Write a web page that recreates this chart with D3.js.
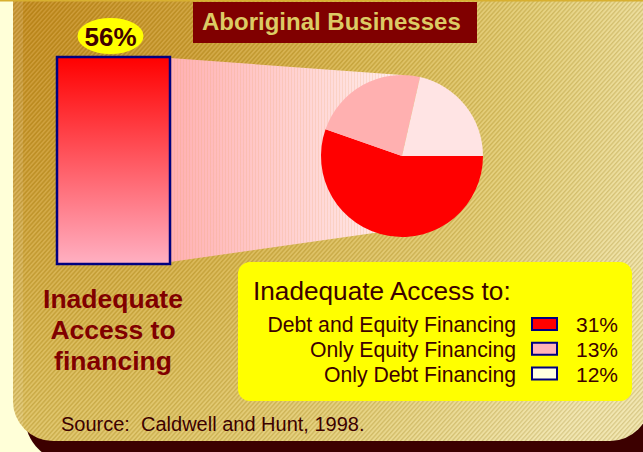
<!DOCTYPE html>
<html>
<head>
<meta charset="utf-8">
<script src="https://cdn.jsdelivr.net/npm/d3@7/dist/d3.min.js"></script>
<style>
  html, body { margin: 0; padding: 0; background: #FFFFD8; }
  svg { display: block; }
  text { font-family: "Liberation Sans", Arial, Helvetica, sans-serif; white-space: pre; }
</style>
</head>
<body>
<svg id="chart" width="643" height="452"></svg>
<script>
// Data
const title = "Aboriginal Businesses";
const totalShare = 56;                 // share of businesses citing inadequate access to financing
const totalLabel = ["Inadequate", "Access to", "financing"];
const legendTitle = "Inadequate Access to:";
const categories = ["Debt and Equity Financing", "Only Equity Financing", "Only Debt Financing"];
const shares = [31, 13, 12];
const sliceColors = ["#FF0000", "#FFB0B0", "#FFE4E4"];
const swatchColors = ["#FF0000", "#FFB3B8", "#FFFFE0"];
const source = "Source:  Caldwell and Hunt, 1998.";

const W = 643, H = 452;
const svg = d3.select("#chart");
const defs = svg.append("defs");

// ---------- backdrop ----------
const panelGrad = defs.append("radialGradient")
  .attr("id", "panelGrad").attr("gradientUnits", "userSpaceOnUse")
  .attr("cx", 13).attr("cy", 0).attr("r", 700);
[[0, "#C48A1C"], [0.25, "#CC9C30"], [0.5, "#D8B64E"], [0.75, "#E3CD74"], [1, "#F0E4AA"]]
  .forEach(([o, c]) => panelGrad.append("stop").attr("offset", o).attr("stop-color", c));

const hatch = defs.append("pattern")
  .attr("id", "hatch").attr("patternUnits", "userSpaceOnUse")
  .attr("width", 3.2).attr("height", 10).attr("patternTransform", "rotate(42)");
hatch.append("rect").attr("width", 1.2).attr("height", 10).attr("fill", "#7A5A00").attr("opacity", 0.2);
hatch.append("rect").attr("x", 1.6).attr("width", 1.1).attr("height", 10).attr("fill", "#FFFFFF").attr("opacity", 0.12);

svg.append("rect").attr("width", W).attr("height", H).attr("fill", "#FFFFD8");

// drop shadow under the panel
svg.append("rect")
  .attr("x", 25).attr("y", -40).attr("width", 660).attr("height", 502)
  .attr("rx", 45).attr("fill", "#3C0000");

const panel = { x: 13, y: -40, w: 637, h: 481, r: 40 };
defs.append("clipPath").attr("id", "panelClip")
  .append("rect").attr("x", panel.x).attr("y", panel.y).attr("width", panel.w)
  .attr("height", panel.h).attr("rx", panel.r);

const pg = svg.append("g").attr("clip-path", "url(#panelClip)");
pg.append("rect").attr("x", panel.x).attr("y", panel.y).attr("width", panel.w)
  .attr("height", panel.h).attr("fill", "url(#panelGrad)");
pg.append("rect").attr("x", panel.x).attr("y", panel.y).attr("width", 10)
  .attr("height", panel.h).attr("fill", "#FFFFFF").attr("opacity", 0.12);
pg.append("rect").attr("x", panel.x).attr("y", panel.y).attr("width", panel.w)
  .attr("height", panel.h).attr("fill", "url(#hatch)");

svg.append("rect").attr("x", 0).attr("y", 0).attr("width", W).attr("height", 1.5)
  .attr("fill", "#D8B030");

// ---------- title ----------
svg.append("rect").attr("x", 193).attr("y", 2).attr("width", 284).attr("height", 41)
  .attr("fill", "#800000");
svg.append("text").attr("x", 202).attr("y", 30)
  .attr("font-size", 24).attr("font-weight", "bold").attr("fill", "#DCCB64")
  .text(title);

// ---------- total bar ----------
const barX = 57, barW = 113;
const y = d3.scaleLinear().domain([0, totalShare]).range([264, 57]);

// pie geometry
const cx = 402, cy = 156, radius = 81;

// funnel linking the bar to the breakdown pie
const funnelGrad = defs.append("linearGradient")
  .attr("id", "funnelGrad").attr("gradientUnits", "userSpaceOnUse")
  .attr("x1", barX + barW).attr("x2", cx).attr("y1", 0).attr("y2", 0);
funnelGrad.append("stop").attr("offset", 0).attr("stop-color", "#FFB0B2");
funnelGrad.append("stop").attr("offset", 1).attr("stop-color", "#FFEEEC");

const vstripe = defs.append("pattern")
  .attr("id", "vstripe").attr("patternUnits", "userSpaceOnUse")
  .attr("width", 3).attr("height", 4);
vstripe.append("rect").attr("width", 1).attr("height", 4).attr("fill", "#E8A060").attr("opacity", 0.18);

const funnelPts = [
  [barX + barW, y(totalShare) + 1],
  [cx, cy - radius],
  [cx, cy + radius * 0.9],
  [barX + barW, y(0) - 2]
];
const funnelPath = d3.line()(funnelPts) + "Z";
svg.append("path").attr("d", funnelPath).attr("fill", "url(#funnelGrad)");
svg.append("path").attr("d", funnelPath).attr("fill", "url(#vstripe)");

const barGrad = defs.append("linearGradient")
  .attr("id", "barGrad").attr("x1", 0).attr("x2", 0).attr("y1", 0).attr("y2", 1);
barGrad.append("stop").attr("offset", 0).attr("stop-color", "#FF0000");
barGrad.append("stop").attr("offset", 1).attr("stop-color", "#FFB0C2");

svg.append("rect")
  .attr("x", barX).attr("y", y(totalShare))
  .attr("width", barW).attr("height", y(0) - y(totalShare))
  .attr("fill", "url(#barGrad)").attr("stroke", "#000080").attr("stroke-width", 2.5);

// value bubble above the bar
svg.append("ellipse").attr("cx", barX + barW / 2 - 3).attr("cy", y(totalShare) - 21)
  .attr("rx", 33).attr("ry", 18).attr("fill", "#FFFF00");
svg.append("text").attr("x", barX + barW / 2 - 3).attr("y", y(totalShare) - 11)
  .attr("text-anchor", "middle").attr("font-size", 26).attr("font-weight", "bold")
  .attr("fill", "#400000").text(totalShare + "%");

// bar caption
svg.append("text").attr("text-anchor", "middle")
  .attr("font-size", 26.5).attr("font-weight", "bold").attr("fill", "#800000")
  .selectAll("tspan").data(totalLabel).join("tspan")
  .attr("x", 113).attr("y", (d, i) => 308 + i * 31).text(d => d);

// ---------- breakdown pie ----------
const pie = d3.pie().sort(null).value(d => d)
  .startAngle(Math.PI / 2).endAngle(Math.PI / 2 + 2 * Math.PI);
const arc = d3.arc().innerRadius(0).outerRadius(radius);
svg.append("g").attr("transform", `translate(${cx},${cy})`)
  .selectAll("path").data(pie(shares)).join("path")
  .attr("d", arc).attr("fill", (d, i) => sliceColors[i]);

// ---------- legend ----------
svg.append("rect").attr("x", 238).attr("y", 262).attr("width", 394).attr("height", 139)
  .attr("rx", 12).attr("fill", "#FFFF00");
svg.append("text").attr("x", 253).attr("y", 300)
  .attr("font-size", 26.2).attr("fill", "#3C0000").text(legendTitle);

const rowY = d3.scalePoint().domain(categories).range([332, 381.5]);
const rows = svg.append("g").selectAll("g").data(categories).join("g")
  .attr("transform", d => `translate(0,${rowY(d)})`);
rows.append("text").attr("x", 516).attr("text-anchor", "end")
  .attr("font-size", 21.2).attr("fill", "#3C0000").text(d => d);
rows.append("rect").attr("x", 532).attr("y", -14).attr("width", 25).attr("height", 12)
  .attr("fill", (d, i) => swatchColors[i]).attr("stroke", "#000080").attr("stroke-width", 2);
rows.append("text").attr("x", 618).attr("text-anchor", "end")
  .attr("font-size", 21).attr("fill", "#3C0000").text((d, i) => shares[i] + "%");

// ---------- source ----------
svg.append("text").attr("x", 61).attr("y", 431)
  .attr("font-size", 20).attr("fill", "#3C0000").text(source);
</script>
</body>
</html>
